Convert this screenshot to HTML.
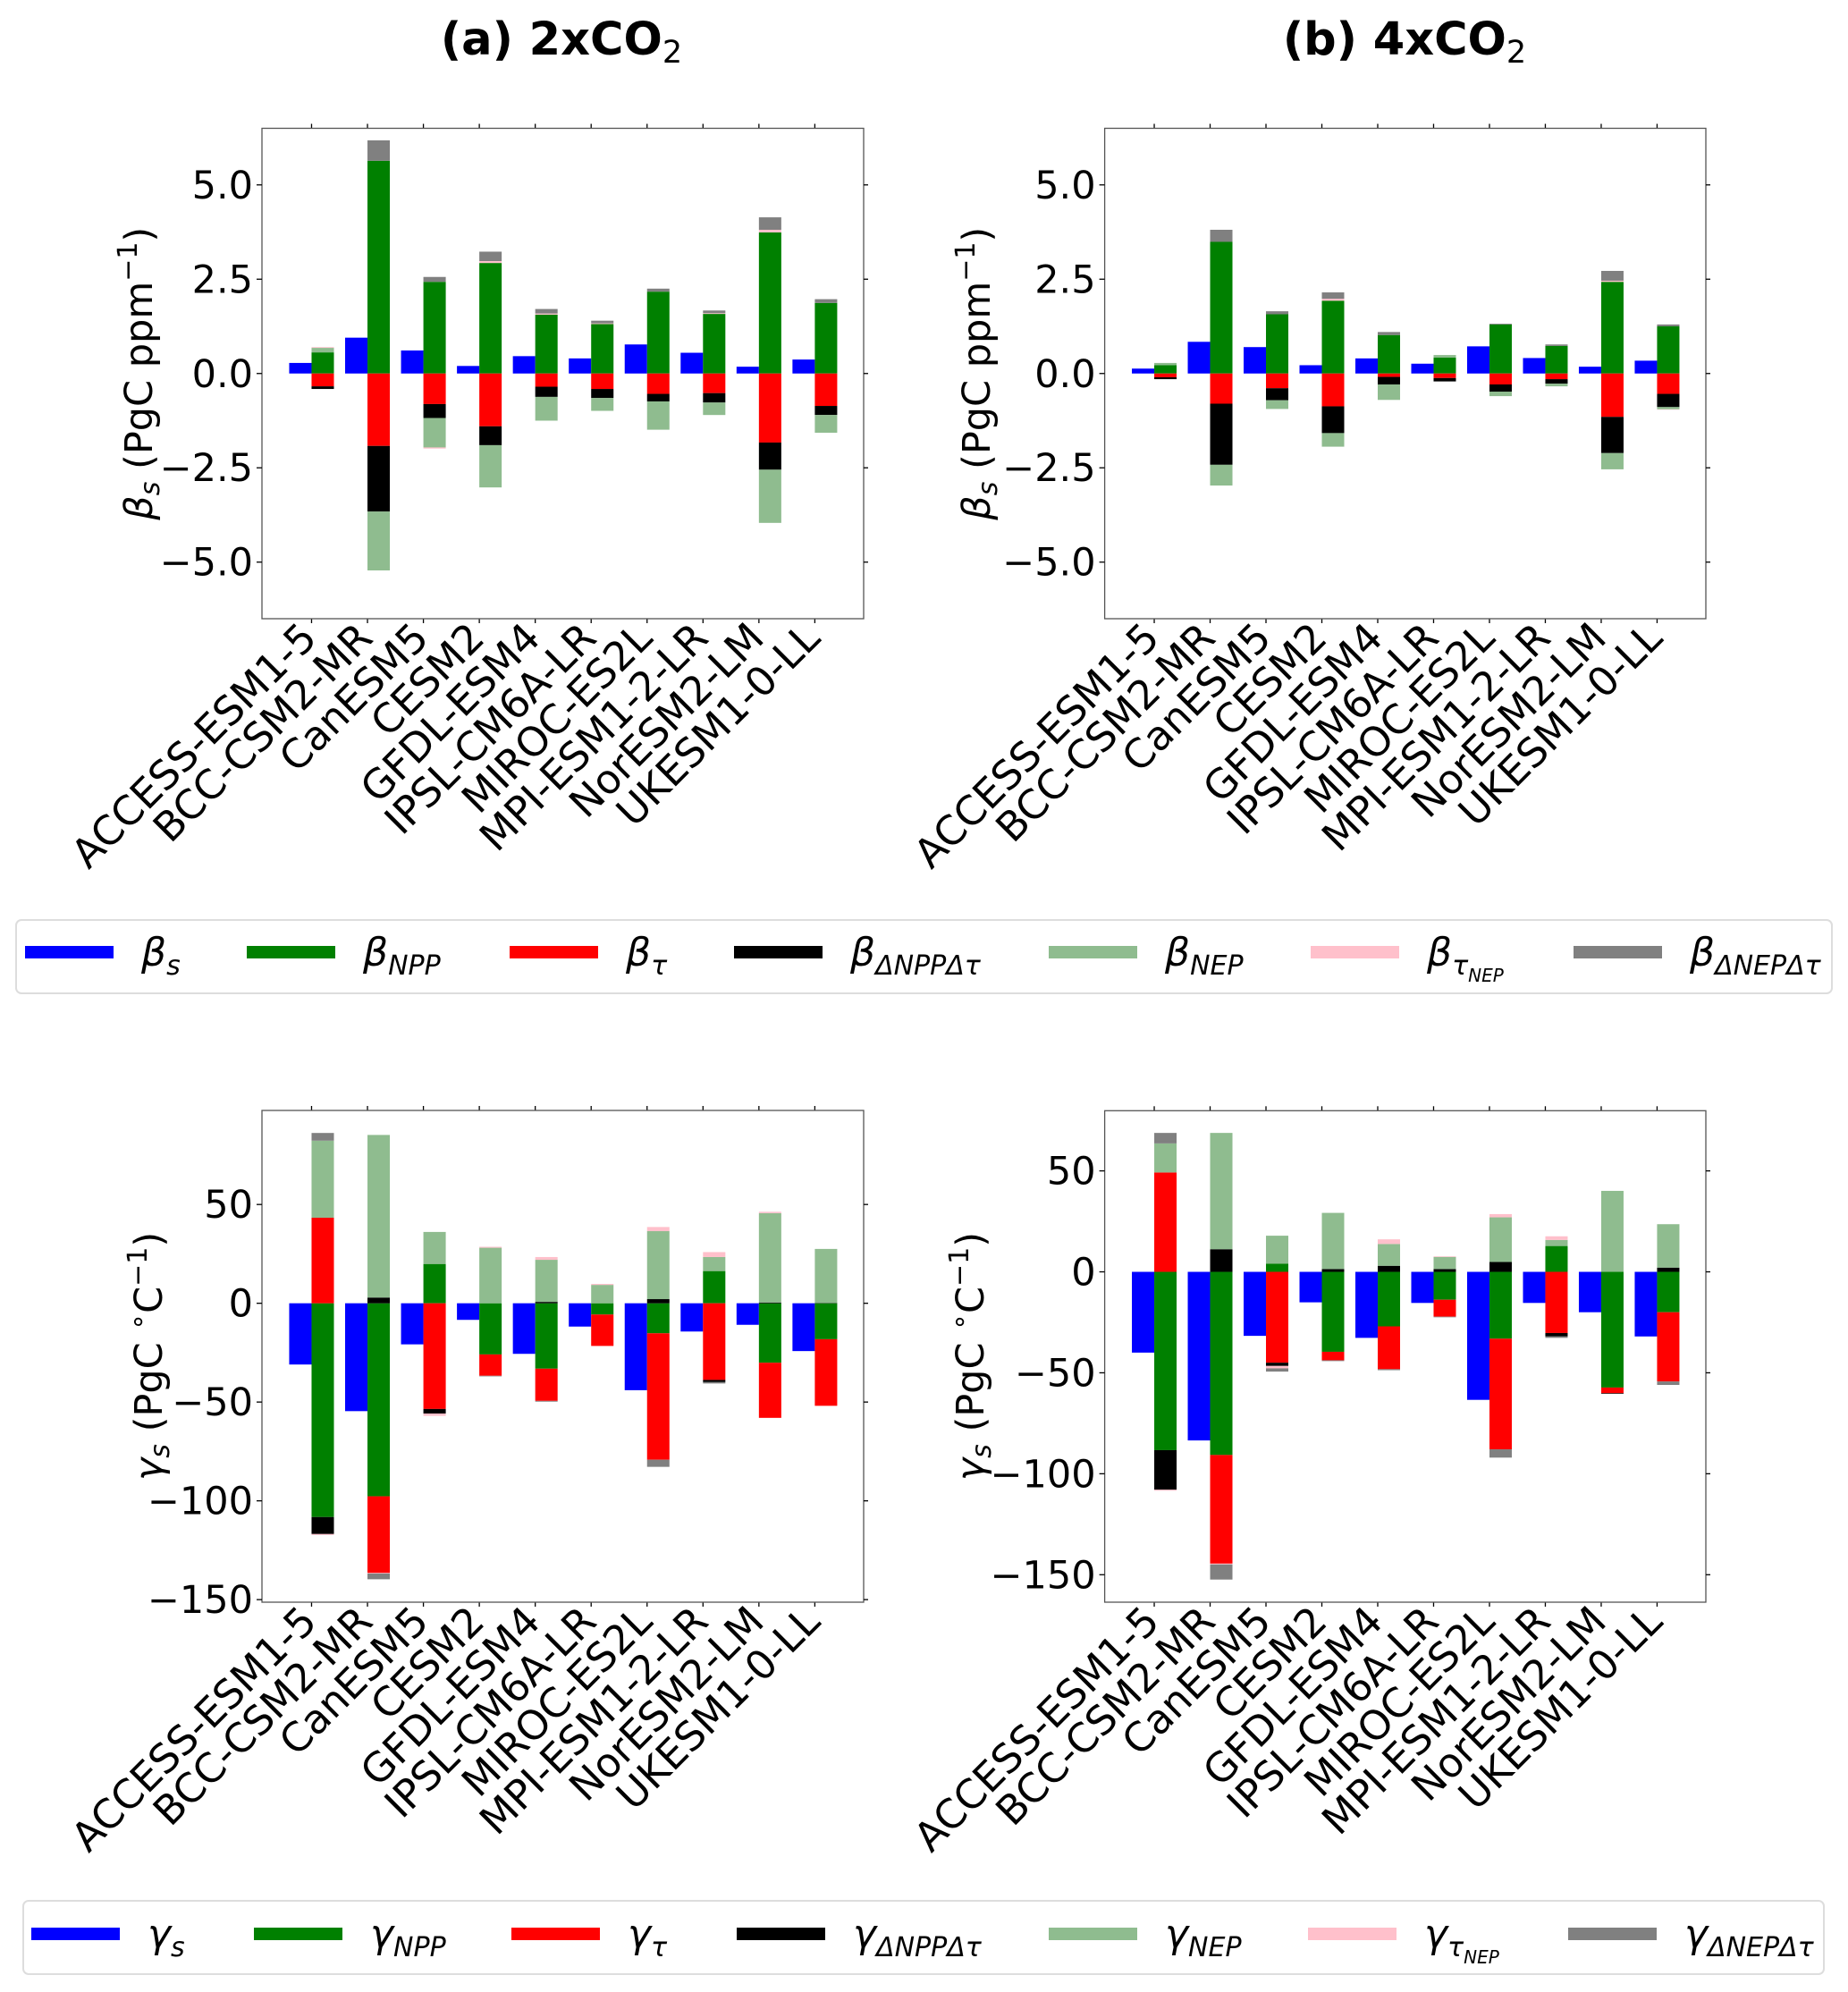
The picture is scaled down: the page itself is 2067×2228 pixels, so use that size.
<!DOCTYPE html>
<html><head><meta charset="utf-8"><style>
html,body{margin:0;padding:0;background:#fff;}
svg{display:block;font-family:"DejaVu Sans","Liberation Sans",sans-serif;}
</style></head><body>
<svg id="fig" width="2067" height="2228" viewBox="0 0 2067 2228" xmlns="http://www.w3.org/2000/svg">
<text x="628" y="61" text-anchor="middle" font-size="51" font-weight="bold">(a) 2xCO<tspan font-size="35" font-weight="normal" dy="9">2</tspan></text>
<text x="1571" y="61" text-anchor="middle" font-size="51" font-weight="bold">(b) 4xCO<tspan font-size="35" font-weight="normal" dy="9">2</tspan></text>
</svg>
<script>
const models = ["ACCESS-ESM1-5","BCC-CSM2-MR","CanESM5","CESM2","GFDL-ESM4","IPSL-CM6A-LR","MIROC-ES2L","MPI-ESM1-2-LR","NorESM2-LM","UKESM1-0-LL"];
// beta 2xCO2
const b2_s    = [0.28,0.95,0.61,0.20,0.46,0.40,0.77,0.55,0.18,0.37];
const b2_npp  = [0.56,5.64,2.43,2.93,1.56,1.31,2.17,1.58,3.74,1.87];
const b2_tau  = [-0.34,-1.92,-0.81,-1.40,-0.35,-0.41,-0.54,-0.52,-1.83,-0.86];
const b2_dd   = [-0.07,-1.74,-0.37,-0.50,-0.27,-0.24,-0.20,-0.25,-0.72,-0.24];
const b2_nep  = [0.12,-1.56,-0.78,-1.12,-0.63,-0.34,-0.75,-0.33,-1.41,-0.47];
const b2_tn   = [0.02,0.00,-0.03,0.05,0.03,0.02,0.00,0.02,0.07,0.00];
const b2_dn   = [0.00,0.54,0.13,0.25,0.12,0.07,0.08,0.07,0.33,0.10];
// beta 4xCO2
const b4_s    = [0.13,0.84,0.70,0.22,0.40,0.26,0.72,0.41,0.18,0.34];
const b4_npp  = [0.22,3.49,1.57,1.93,1.02,0.42,1.30,0.73,2.43,1.25];
const b4_tau  = [-0.10,-0.80,-0.39,-0.87,-0.09,-0.12,-0.29,-0.15,-1.15,-0.54];
const b4_dd   = [-0.05,-1.62,-0.32,-0.71,-0.20,-0.09,-0.19,-0.12,-0.96,-0.35];
const b4_nep  = [0.06,-0.55,-0.23,-0.36,-0.41,0.07,-0.12,-0.07,-0.43,-0.06];
const b4_tn   = [0.00,0.00,0.00,0.05,0.00,0.00,0.00,0.00,0.03,-0.01];
const b4_dn   = [0.00,0.32,0.08,0.17,0.08,0.00,0.02,0.04,0.26,0.05];
// gamma 2xCO2
const g2_s    = [-31,-54.6,-20.8,-8.4,-25.6,-11.8,-44,-14.3,-10.9,-24.2];
const g2_npp  = [-108.2,-97.7,19.9,-25.9,-33.1,-5.7,-15.2,16.3,-30.1,-18.2];
const g2_tau  = [43.3,-38.8,-53.5,-10.8,-16.3,-15.9,-64,-38.8,-27.9,-33.7];
const g2_dd   = [-8.6,2.9,-2.3,0,0.7,0,2.1,-1.1,0.4,0.2];
const g2_nep  = [39,82.3,16.2,28.1,21.3,9.3,34.4,7.1,45.2,27.3];
const g2_tn   = [-0.5,-0.3,-1.2,0.5,1.4,0.5,2.1,2.5,0.7,0];
const g2_dn   = [3.9,-2.9,0,-0.3,-0.4,0,-3.6,-0.7,0,0];
// gamma 4xCO2
const g4_s    = [-40,-83.5,-31.7,-15.1,-32.7,-15.4,-63.4,-15.4,-20,-32];
const g4_npp  = [-88.3,-90.7,4.0,-39.6,-27,-13.8,-33.1,12.8,-57.3,-20];
const g4_tau  = [49.2,-53.8,-45,-4.2,-21.2,-8.4,-54.8,-30.3,-2.8,-34.3];
const g4_dd   = [-19.6,11.2,-1.6,1.4,3.0,1.4,4.9,-1.7,-0.3,2.1];
const g4_nep  = [14.4,57.6,13.9,27.8,10.8,6.0,22.1,3.0,40.1,21.5];
const g4_tn   = [-0.5,-0.4,-1.2,0,2.3,0.3,1.6,1.8,0,0];
const g4_dn   = [5.2,-7.5,-1.6,-0.4,-0.5,-0.3,-4.1,-0.7,0,-1.7];

const betaTicks = [-5.0,-2.5,0.0,2.5,5.0];
const g2Ticks = [-150,-100,-50,0,50];
const g4Ticks = [-150,-100,-50,0,50];

const NS = "http://www.w3.org/2000/svg";
const svg = document.getElementById('fig');
const colors = ["#0000ff","#008000","#ff0000","#000000","#8fbc8f","#ffc0cb","#808080"];
function el(tag, attrs, parent){const e=document.createElementNS(NS,tag);for(const k in attrs)e.setAttribute(k,attrs[k]);(parent||svg).appendChild(e);return e;}

function panel(name, left, top, w, h, ymin, ymax, ticks, tickFmt, s, comps, ylabel, ylabX){
  const g = el('g',{});
  
  
  const xmin=-0.887, xmax=9.873;
  const xs = i => left + (i - xmin) * w / (xmax - xmin);
  const ys = v => top + (ymax - v) * h / (ymax - ymin);
  const bw = 0.4 * w / (xmax - xmin);
  models.forEach((m,i)=>{
    const xc = xs(i);
    const b = el('rect',{x:xc-bw,y:Math.min(ys(0),ys(s[i])),width:bw,height:Math.abs(ys(s[i])-ys(0)),fill:colors[0]},g);
    
    
    let pos=0, neg=0;
    comps.forEach((arr,k)=>{
      const v=arr[i]; if(v===0) return;
      let y0,y1;
      if(v>0){y0=pos;y1=pos+v;pos=y1;}else{y0=neg;y1=neg+v;neg=y1;}
      const r = el('rect',{x:xc,y:Math.min(ys(y0),ys(y1)),width:bw,height:Math.abs(ys(y1)-ys(y0)),fill:colors[k+1]},g);
      
      
    });
    el('line',{x1:xc,x2:xc,y1:top+h,y2:top+h+5,stroke:'#000','stroke-width':1.3},g);
    el('line',{x1:xc,x2:xc,y1:top,y2:top-5,stroke:'#000','stroke-width':1.3},g);
    const t = el('text',{x:0,y:0,'font-size':45,'text-anchor':'end',transform:`translate(${xc+8},${top+h+24}) rotate(-45)`},g);
    t.textContent = m;
    
    
  });
  el('rect',{x:left,y:top,width:w,height:h,fill:'none',stroke:'#555','stroke-width':1.3},g);
  ticks.forEach(v=>{
    const y=ys(v);
    el('line',{x1:left-6,x2:left,y1:y,y2:y,stroke:'#000','stroke-width':1.3},g);
    el('line',{x1:left+w,x2:left+w+5,y1:y,y2:y,stroke:'#000','stroke-width':1.3},g);
    const t=el('text',{x:left-10,y:y+15,'font-size':43,'text-anchor':'end'},g);
    t.textContent = tickFmt(v);
    
    
  });
  const yl = el('text',{x:0,y:0,'font-size':43,'text-anchor':'middle',transform:`translate(${ylabX},${top+h/2}) rotate(-90)`},g);
  
  
  yl.innerHTML = ylabel;
}
const fb = v => (v<0?'\u2212':'')+Math.abs(v).toFixed(1);
const fg = v => (v<0?'\u2212':'')+Math.abs(v);
const bl = '<tspan font-style="italic">β</tspan><tspan font-style="italic" font-size="30" dy="8">s</tspan><tspan dy="-8"> (PgC ppm</tspan><tspan font-size="30" dy="-17">−1</tspan><tspan dy="17">)</tspan>';
const gl = '<tspan font-style="italic">γ</tspan><tspan font-style="italic" font-size="30" dy="8">s</tspan><tspan dy="-8"> (PgC </tspan><tspan font-size="30" dy="-17">∘</tspan><tspan dy="17">C</tspan><tspan font-size="30" dy="-17">−1</tspan><tspan dy="17">)</tspan>';
panel('beta-2xco2-chart',293,143.5,673,548.5,-6.5,6.5,betaTicks,fb,b2_s,[b2_npp,b2_tau,b2_dd,b2_nep,b2_tn,b2_dn],bl,170);
panel('beta-4xco2-chart',1235.6,143.5,672.4,548.5,-6.5,6.5,betaTicks,fb,b4_s,[b4_npp,b4_tau,b4_dd,b4_nep,b4_tn,b4_dn],bl,1107);
panel('gamma-2xco2-chart',293,1242,673,550,-151.3,97.6,g2Ticks,fg,g2_s,[g2_npp,g2_tau,g2_dd,g2_nep,g2_tn,g2_dn],gl,181);
panel('gamma-4xco2-chart',1235.6,1242.3,672.4,549.7,-163.6,79.8,g4Ticks,fg,g4_s,[g4_npp,g4_tau,g4_dd,g4_nep,g4_tn,g4_dn],gl,1100);

function legend(name, sym, x0, y0, x1, y1, px, py){
  const g = el('g',{});
  
  
  el('rect',{x:x0,y:y0,width:x1-x0,height:y1-y0,rx:6,fill:'#fff',stroke:'#ddd','stroke-width':2},g);
  const subs = ['s','NPP','τ','ΔNPPΔτ','NEP','τ','ΔNEPΔτ'];
  px.forEach((x,k)=>{
    const r=el('rect',{x:x,y:py,width:99,height:14,fill:colors[k]},g);
    
    
    const t=el('text',{x:x+130,y:py+22,'font-size':44,'font-style':'italic'},g);
    
    
    let html = sym+'<tspan font-size="30" dy="10">'+subs[k]+'</tspan>';
    if(k===5) html = sym+'<tspan font-size="30" dy="10">τ</tspan><tspan font-size="20" dy="8">NEP</tspan>';
    t.innerHTML = html;
  });
}
legend('legend-beta','β',18,1029,2049,1111,[28,276,570,821,1173,1466,1760],1058);
legend('legend-gamma','γ',26,2126,2040,2208,[35,284,572,824,1173,1463,1754],2156);
</script>
</body></html>
